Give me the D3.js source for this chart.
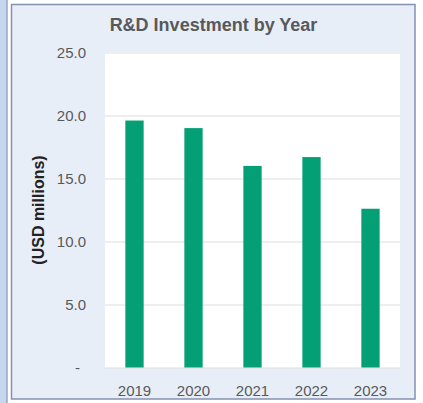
<!DOCTYPE html>
<html>
<head>
<meta charset="utf-8">
<script src="https://cdn.jsdelivr.net/npm/d3@7"></script>
<style>
  html, body { margin: 0; padding: 0; background: #ffffff; }
  svg { display: block; font-family: "Liberation Sans", Arial, sans-serif; }
</style>
</head>
<body>
<svg id="chart" width="423" height="403"></svg>
<script>
// R&D spend per fiscal year, USD millions
const years = ["2019", "2020", "2021", "2022", "2023"];
const investment = [19.6, 19.0, 16.0, 16.7, 12.6];
const yTicks = [0, 5, 10, 15, 20, 25];

const svg = d3.select("#chart");
const W = 423, H = 403;

// neighbouring panel edge on the left
svg.append("rect").attr("x", 0).attr("y", 0).attr("width", 7).attr("height", H)
  .attr("fill", "#c6d6ee");
svg.append("line").attr("x1", 7).attr("x2", 7).attr("y1", 0).attr("y2", H)
  .attr("stroke", "#8591b2").attr("stroke-width", 1.2);

// panel
svg.append("rect").attr("x", 11.5).attr("y", 4.5).attr("width", 403.5).attr("height", 394.5)
  .attr("fill", "#e8eef8").attr("stroke", "#8791b0").attr("stroke-width", 1.5);

const plot = { left: 105, right: 400, top: 52.5, bottom: 367.5 };

const x = d3.scaleBand().domain(years).range([plot.left, plot.right]).paddingInner(0.69).paddingOuter(0.345);
const y = d3.scaleLinear().domain([0, 25]).range([plot.bottom, plot.top]);

// plot area
svg.append("rect").attr("x", plot.left).attr("y", plot.top - 0.5)
  .attr("width", plot.right - plot.left).attr("height", plot.bottom - plot.top + 1)
  .attr("fill", "#ffffff");

// horizontal gridlines
svg.append("g").attr("transform", `translate(${plot.left},0)`)
  .call(d3.axisLeft(y).tickValues(yTicks).tickSize(-(plot.right - plot.left)).tickFormat(""))
  .call(g => g.select(".domain").remove())
  .call(g => g.selectAll("line").attr("stroke", "#dedede").attr("stroke-width", 1.2));

// y tick labels (zero shown as a dash)
const yAxis = svg.append("g").attr("transform", `translate(86,0)`)
  .call(d3.axisLeft(y).tickValues(yTicks).tickSize(0).tickPadding(0)
    .tickFormat(d => d === 0 ? "-" : d3.format(".1f")(d)));
yAxis.select(".domain").remove();
yAxis.selectAll("text").attr("font-size", 15).attr("fill", "#595959")
  .attr("font-family", '"Liberation Sans", Arial, sans-serif')
  .attr("dx", d => d === 0 ? -6 : 0);

// bars
svg.append("g").selectAll("rect").data(years).join("rect")
  .attr("x", (d) => x(d))
  .attr("width", x.bandwidth())
  .attr("y", (d, i) => y(investment[i]))
  .attr("height", (d, i) => y(0) - y(investment[i]))
  .attr("fill", "#049f74");

// x tick labels
const xAxis = svg.append("g").attr("transform", `translate(0,${plot.bottom})`)
  .call(d3.axisBottom(x).tickSize(0).tickPadding(18));
xAxis.select(".domain").remove();
xAxis.selectAll("text").attr("font-size", 15).attr("fill", "#595959")
  .attr("font-family", '"Liberation Sans", Arial, sans-serif');

// title
svg.append("text").attr("x", 213.5).attr("y", 31)
  .attr("text-anchor", "middle").attr("font-size", 18).attr("font-weight", "bold")
  .attr("fill", "#595959").text("R&D Investment by Year");

// y axis title
svg.append("text").attr("transform", "translate(44,210) rotate(-90)")
  .attr("text-anchor", "middle").attr("font-size", 16).attr("font-weight", "bold")
  .attr("fill", "#222222").text("(USD millions)");
</script>
</body>
</html>
